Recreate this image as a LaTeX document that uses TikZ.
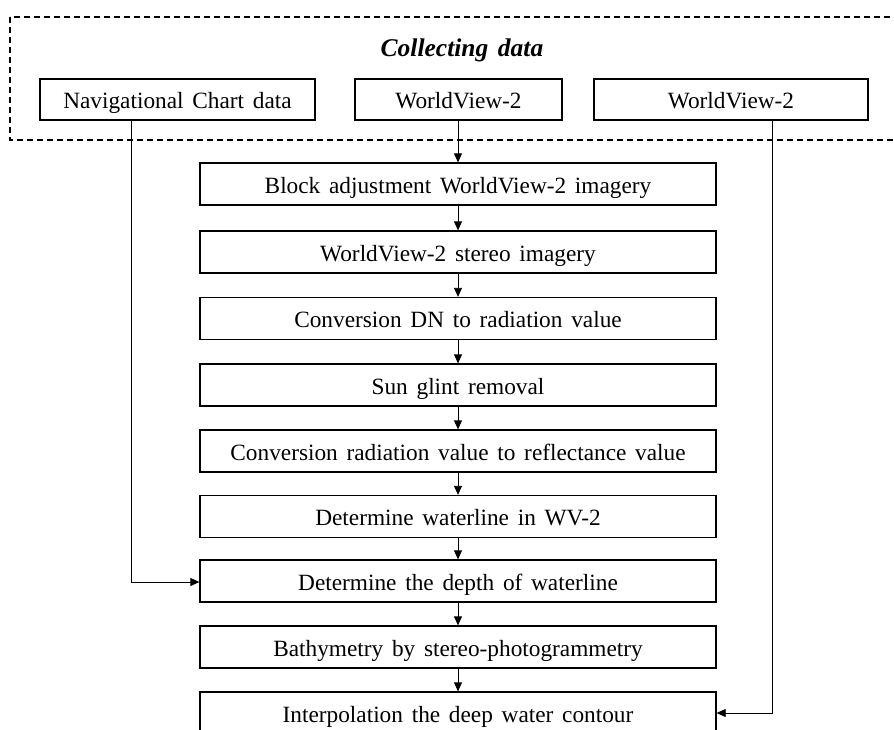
\documentclass[tikz,border=0pt]{standalone}
\usepackage{fontspec}
\setmainfont{Liberation Serif}[WordSpace=1.5]
\usetikzlibrary{arrows.meta}
\begin{document}
\begin{tikzpicture}[x=1pt,y=-1pt,
  box/.style={draw, line width=1.3pt, minimum height=42pt, inner sep=0pt, text height=18pt, text depth=0pt, font=\fontsize{23.3}{26}\selectfont},
  mainbox/.style={box, minimum width=516pt},
  conn/.style={line width=0.8pt, -{Triangle[length=9pt,width=8pt]}},
  plain/.style={line width=0.8pt}]
\useasboundingbox (0,0) rectangle (894,729);
\draw[dashed, line width=1.2pt, dash pattern=on 6pt off 4pt] (10,17) rectangle (912,140);
\node[font=\fontsize{25.5}{28}\selectfont\bfseries\itshape, inner sep=0pt, text height=18pt, text depth=0pt] (title) at (462,47) {Collecting data};
\node[box, minimum width=275pt, minimum height=41pt] (nav) at (177.5,99.5) {Navigational Chart data};
\node[box, minimum width=207pt, minimum height=41pt] (wv1) at (458.5,99.5) {WorldView-2};
\node[box, minimum width=274pt, minimum height=41pt] (wv2) at (731,99.5) {WorldView-2};
\node[mainbox] (b1) at (458,184) {Block adjustment WorldView-2 imagery};
\node[mainbox] (b2) at (458,252) {WorldView-2 stereo imagery};
\node[mainbox] (b3) at (458,318.5) {Conversion DN to radiation value};
\node[mainbox] (b4) at (458,385) {Sun glint removal};
\node[mainbox] (b5) at (458,451) {Conversion radiation value to reflectance value};
\node[mainbox] (b6) at (458,516.5) {Determine waterline in WV-2};
\node[mainbox] (b7) at (458,581) {Determine the depth of waterline};
\node[mainbox] (b8) at (458,647) {Bathymetry by stereo-photogrammetry};
\node[mainbox] (b9) at (458,713) {Interpolation the deep water contour};
\coordinate (navout) at (131,120);
\coordinate (navbend) at (131,582);
\coordinate (wvout) at (772,120);
\coordinate (wvbend) at (772,713);
\draw[conn] (wv1.south -| b1.north) -- (b1.north);
\draw[conn] (b1) -- (b2);
\draw[conn] (b2) -- (b3);
\draw[conn] (b3) -- (b4);
\draw[conn] (b4) -- (b5);
\draw[conn] (b5) -- (b6);
\draw[conn] (b6) -- (b7);
\draw[conn] (b7) -- (b8);
\draw[conn] (b8) -- (b9);
\draw[conn] (navout) -- (navbend) -- (navbend -| b7.west);
\draw[conn] (wvout) -- (wvbend) -- (wvbend -| b9.east);
\end{tikzpicture}
\end{document}
